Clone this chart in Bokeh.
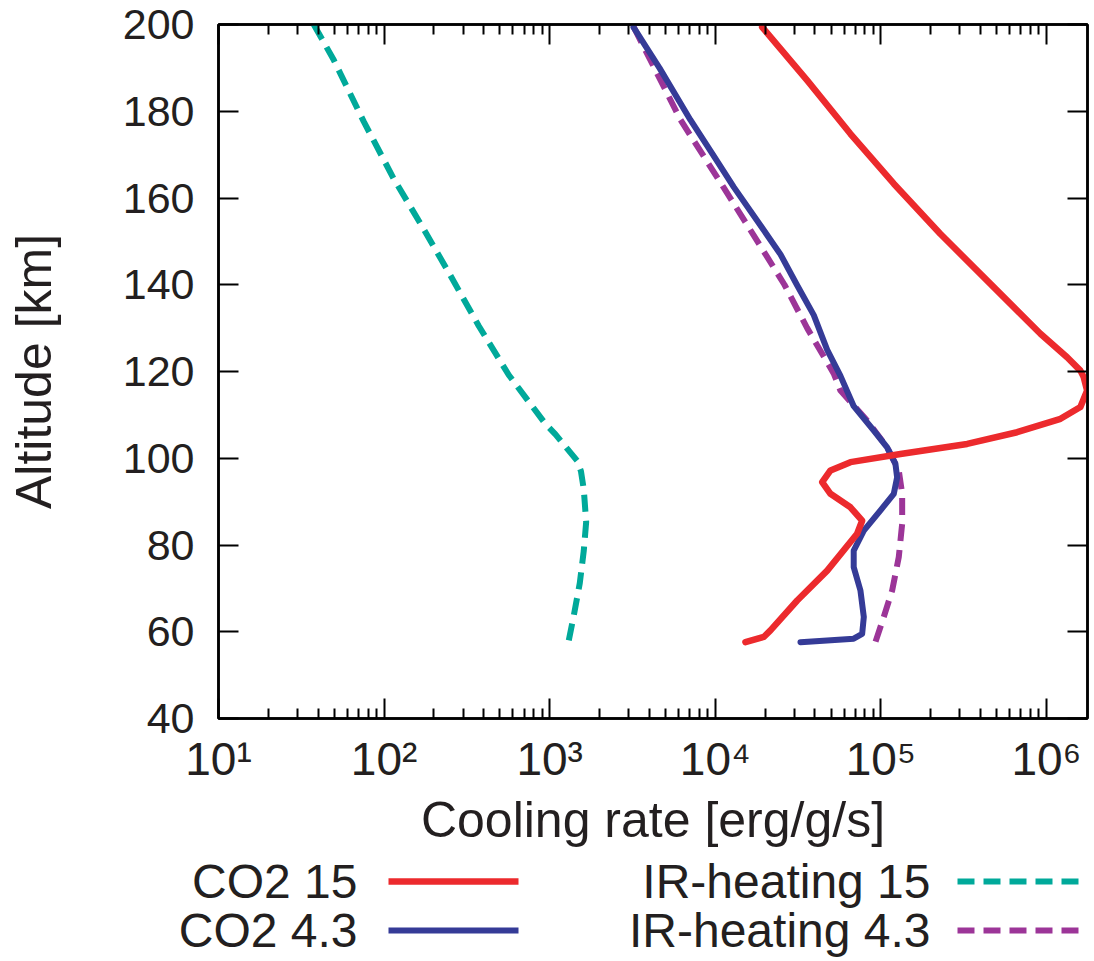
from bokeh.plotting import figure
from bokeh.models import Range1d, FixedTicker, LogAxis, LinearAxis, Label
from bokeh.layouts import column
from bokeh.embed import file_html
from bokeh.resources import INLINE

# ---------------- data ----------------
alt_co2_15 = [199.4, 187.1, 174.8, 163.3, 151.7, 140.2, 128.7, 123.3, 120.2, 118.7, 115.6,
              111.8, 109.1, 106.0, 103.3, 101.0, 99.1, 97.2, 94.5, 91.8, 88.7, 85.6, 82.6,
              74.1, 67.2, 60.3, 58.8, 57.6]
rate_co2_15 = [19190, 35900, 65500, 119700, 229100, 459000, 920000, 1333000, 1604000, 1679000,
               1761000, 1604000, 1216000, 665000, 332000, 131300, 65500, 49630, 44220, 49630,
               65500, 77100, 71900, 47420, 31240, 21540, 19630, 15210]

alt_co2_43 = [199.4, 190, 178, 170, 162.5, 155, 147, 140, 133, 125, 119, 112, 106.4, 102.5,
              98.7, 95.6, 91.8, 88, 83.3, 78.7, 74.9, 69.5, 63.4, 59.5, 58.4, 57.6]
rate_co2_43 = [3206, 4600, 7080, 9680, 12940, 17750, 24770, 31100, 39350, 47420, 57020, 68560,
               90600, 109100, 122500, 125400, 119700, 99500, 78900, 68560, 68560, 75300,
               78900, 77100, 68560, 32700]

alt_ir_15 = [200, 191.8, 177.6, 164.4, 154.1, 142.8, 130.5, 119.2, 107.9, 105.5, 103.2,
             101.3, 99.4, 97.0, 92.8, 85.3, 78.7, 71.2, 63.7, 58.0]
rate_ir_15 = [37.6, 49.7, 75.4, 114.5, 165.9, 245.9, 373.2, 566.2, 943.2, 1084, 1216,
              1335, 1466, 1545, 1607, 1661, 1607, 1520, 1398, 1304]

alt_ir_43 = [199.4, 178, 162.5, 150, 140, 130, 119.5, 115.6, 108.7, 102.5, 97.2, 91.8, 84.9,
             77.2, 69.5, 63.4, 57.6]
rate_ir_43 = [3220, 6170, 11200, 17990, 26180, 35900, 51970, 57020, 82600, 109100, 128300,
              134500, 134500, 128300, 117000, 104100, 92700]

x_ticks = [10, 100, 1000, 10000, 100000, 1000000]
x_tick_labels = ["10\u00b9", "10\u00b2", "10\u00b3", "10\u2074", "10\u2075", "10\u2076"]
y_ticks = [40, 60, 80, 100, 120, 140, 160, 180, 200]
series_labels = ["CO2 15", "CO2 4.3", "IR-heating 15", "IR-heating 4.3"]

RED = "#ec2a2d"
BLUE = "#353b97"
TEAL = "#00a99a"
PURPLE = "#9c3598"
FONT = "Liberation Sans"

minor = [m * t for t in x_ticks for m in range(2, 10)]

# ---------------- main figure ----------------
p = figure(width=1094, height=850, x_axis_type="log",
           x_range=Range1d(10, 1.77e6), y_range=Range1d(40, 200),
           output_backend="svg", toolbar_location=None,
           min_border_left=218, min_border_right=7, min_border_top=24, min_border_bottom=132)
p.xgrid.visible = False
p.ygrid.visible = False
p.outline_line_color = "black"
p.outline_line_width = 2.5
p.background_fill_color = "white"
p.border_fill_color = "white"

xt = FixedTicker(ticks=x_ticks, minor_ticks=minor)
yt = FixedTicker(ticks=y_ticks, minor_ticks=[])

xa = p.xaxis[0]
xa.ticker = xt
xa.major_label_overrides = {t: l for t, l in zip(x_ticks, x_tick_labels)}
xa.axis_label = "Cooling rate [erg/g/s]"

ya = p.yaxis[0]
ya.ticker = yt
ya.axis_label = "Altitude [km]"

for ax, lblsize in ((xa, "46px"), (ya, "43px")):
    ax.axis_line_color = "black"
    ax.axis_line_width = 2.5
    ax.major_tick_in = 20
    ax.major_tick_out = 0
    ax.minor_tick_in = 10
    ax.minor_tick_out = 0
    ax.major_tick_line_width = 2
    ax.minor_tick_line_width = 2
    ax.major_label_text_font = FONT
    ax.major_label_text_font_size = lblsize
    ax.major_label_text_color = "#231f20"
    ax.axis_label_text_font = FONT
    ax.axis_label_text_font_size = "50px"
    ax.axis_label_text_font_style = "normal"
    ax.axis_label_text_color = "#231f20"

xa.major_label_standoff = 14
xa.axis_label_standoff = 4
ya.major_label_standoff = 24
ya.axis_label_standoff = 58

top = LogAxis(ticker=xt)
right = LinearAxis(ticker=yt)
for ax in (top, right):
    ax.axis_line_color = "black"
    ax.axis_line_width = 2.5
    ax.major_tick_in = 20
    ax.major_tick_out = 0
    ax.minor_tick_in = 10
    ax.minor_tick_out = 0
    ax.major_tick_line_width = 2
    ax.minor_tick_line_width = 2
    ax.major_label_text_font_size = "1px"
    ax.major_label_text_alpha = 0
    ax.major_label_standoff = 0
p.add_layout(top, "above")
p.add_layout(right, "right")

p.line(rate_ir_15, alt_ir_15, line_color=TEAL, line_width=6, line_dash="17 9", line_join="round")
p.line(rate_ir_43, alt_ir_43, line_color=PURPLE, line_width=6, line_dash="17 9", line_join="round")
p.line(rate_co2_43, alt_co2_43, line_color=BLUE, line_width=6, line_join="round", line_cap="round")
p.line(rate_co2_15, alt_co2_15, line_color=RED, line_width=6.5, line_join="round", line_cap="round")

# ---------------- legend strip (label then sample, gnuplot style) ----------------
lg = figure(width=1094, height=111, x_range=Range1d(0, 1094), y_range=Range1d(0, 111),
            output_backend="svg", toolbar_location=None,
            x_axis_location=None, y_axis_location=None,
            min_border=0, min_border_left=0, min_border_right=0,
            min_border_top=0, min_border_bottom=0)
lg.frame_align = False
lg.xgrid.visible = False
lg.ygrid.visible = False
lg.outline_line_color = None

for tx, ty, txt in zip([357, 357, 930, 930], [80, 31, 80, 31], series_labels):
    lg.add_layout(Label(x=tx, y=ty, text=txt, text_align="right", text_baseline="middle",
                        text_font=FONT, text_font_size="48px", text_color="#231f20"))
lg.line([388, 518], [80, 80], line_color=RED, line_width=6.5)
lg.line([388, 518], [31, 31], line_color=BLUE, line_width=6)
lg.line([957, 1087], [80, 80], line_color=TEAL, line_width=6, line_dash="17 9")
lg.line([957, 1087], [31, 31], line_color=PURPLE, line_width=6, line_dash="17 9")

layout = column(p, lg, spacing=0)
open("out.html", "w").write(file_html(layout, INLINE))
